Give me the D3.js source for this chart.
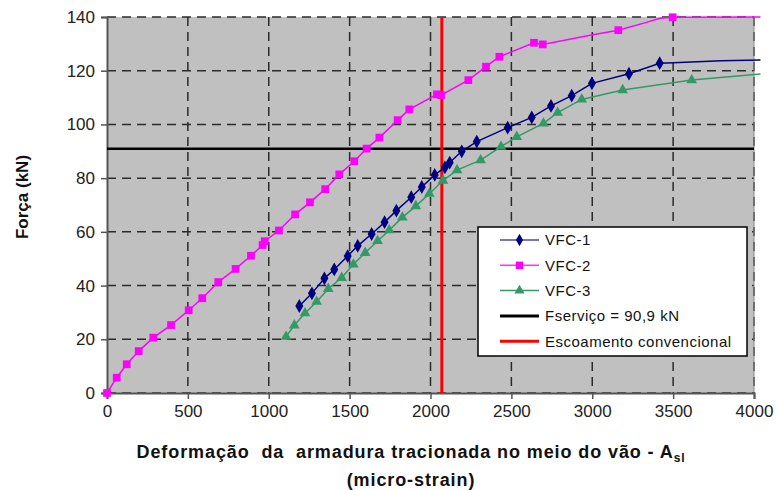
<!DOCTYPE html>
<html>
<head>
<meta charset="utf-8">
<script src="https://cdn.jsdelivr.net/npm/d3@7"></script>
<style>
	body { margin: 0; background: #fff; }
	svg text { font-family: "Liberation Sans", Arial, sans-serif; }
</style>
</head>
<body>
<div id="chart"></div>
<script>
// data: [strain, force, marker(1/0)]
const vfc1 = [
	[1189, 32.4, 1], [1267, 37.1, 1], [1344, 42.7, 1], [1405, 46.0, 1], [1488, 51.0, 1],
	[1550, 54.8, 1], [1636, 59.2, 1], [1716, 63.6, 1], [1789, 67.9, 1], [1881, 72.9, 1],
	[1946, 76.7, 1], [2026, 81.2, 1], [2089, 84.0, 1], [2119, 85.8, 1], [2193, 90.0, 1],
	[2286, 93.6, 1], [2477, 98.8, 1], [2626, 102.6, 1], [2745, 106.9, 1], [2873, 110.7, 1],
	[2998, 115.3, 1], [3227, 118.9, 1], [3417, 122.8, 1], [3501, 123.0, 0], [3800, 123.7, 0],
	[4040, 124.0, 0]
];
const vfc2 = [
	[0, 0, 1], [60, 5.7, 1], [122, 10.7, 1], [196, 15.6, 1], [286, 20.6, 1], [396, 25.3, 1],
	[505, 30.8, 1], [589, 35.3, 1], [688, 41.3, 1], [795, 46.2, 1], [890, 51.1, 1],
	[962, 55.1, 1], [975, 56.5, 1], [1063, 60.5, 1], [1163, 66.5, 1], [1255, 71.0, 1],
	[1349, 75.9, 1], [1436, 81.4, 1], [1529, 86.3, 1], [1605, 91.0, 1], [1684, 95.1, 1],
	[1797, 101.6, 1], [1869, 105.6, 1], [2040, 111.2, 1], [2065, 110.9, 1], [2234, 116.5, 1],
	[2343, 121.5, 1], [2426, 125.2, 1], [2640, 130.4, 1], [2694, 129.8, 1], [2995, 133.3, 0],
	[3161, 135.1, 1], [3330, 137.9, 0], [3419, 139.5, 0], [3497, 139.9, 1], [4040, 140.0, 0]
];
const vfc3 = [
	[1107, 21.0, 1], [1158, 25.2, 1], [1224, 29.7, 1], [1296, 34.0, 1], [1368, 38.8, 1],
	[1451, 42.9, 1], [1523, 47.9, 1], [1596, 52.2, 1], [1673, 56.6, 1], [1745, 60.6, 1],
	[1826, 65.4, 1], [1909, 69.6, 1], [1993, 74.2, 1], [2077, 79.1, 1], [2164, 83.0, 1],
	[2310, 86.7, 1], [2436, 91.7, 1], [2533, 95.4, 1], [2698, 100.4, 1], [2786, 104.4, 1],
	[2935, 109.3, 1], [3188, 112.8, 1], [3615, 116.5, 1], [4040, 118.8, 0]
];
const fServico = 90.9;
const escoamento = 2070;
const xTicks = [0, 500, 1000, 1500, 2000, 2500, 3000, 3500, 4000];
const yTicks = [0, 20, 40, 60, 80, 100, 120, 140];
const legendLabels = ["VFC-1", "VFC-2", "VFC-3", "Fserviço = 90,9 kN", "Escoamento convencional"];

// dimensions
const margin = { top: 17, right: 22, bottom: 97, left: 107 };
const width = 776 - margin.left - margin.right;
const height = 490 - margin.top - margin.bottom;

const x = d3.scaleLinear().domain([0, 4000]).range([0, width]);
const y = d3.scaleLinear().domain([0, 140]).range([height, 0]);

const svg = d3.select("#chart").append("svg")
	.attr("width", 776)
	.attr("height", 490)
	.append("g")
	.attr("transform", "translate(" + margin.left + "," + margin.top + ")");

// plot area
svg.append("rect")
	.attr("width", width)
	.attr("height", height)
	.style("fill", "#c0c0c0");

// grid
svg.append("g").selectAll("line")
	.data(yTicks)
	.enter().append("line")
	.attr("x1", 0).attr("x2", width)
	.attr("y1", d => y(d)).attr("y2", d => y(d))
	.style("stroke", "#2a2a2a").style("stroke-width", 1.5)
	.style("stroke-dasharray", "9,6");
svg.append("g").selectAll("line")
	.data(xTicks.slice(1))
	.enter().append("line")
	.attr("y1", 0).attr("y2", height)
	.attr("x1", d => x(d)).attr("x2", d => x(d))
	.style("stroke", "#2a2a2a").style("stroke-width", 1.5)
	.style("stroke-dasharray", "9,6");

// right border
svg.append("line")
	.attr("x1", width).attr("x2", width).attr("y1", 0).attr("y2", height)
	.style("stroke", "#888").style("stroke-width", 1);

// axes
const yAxis = svg.append("g")
	.call(d3.axisLeft(y).tickValues(yTicks).tickSize(6).tickPadding(6));
const xAxis = svg.append("g")
	.attr("transform", "translate(0," + height + ")")
	.call(d3.axisBottom(x).tickValues(xTicks).tickFormat(d3.format("d")).tickSize(6).tickPadding(6));
[xAxis, yAxis].forEach(a => {
	a.select(".domain").style("stroke", "#555").style("stroke-width", 2);
	a.selectAll(".tick line").style("stroke", "#555").style("stroke-width", 1.5);
	a.selectAll(".tick text")
		.style("font-size", "17px")
		.style("fill", "#222")
		.style("font-family", "'Liberation Sans', Arial, sans-serif");
});

// reference lines
svg.append("line")
	.attr("x1", 0).attr("x2", width)
	.attr("y1", y(fServico)).attr("y2", y(fServico))
	.style("stroke", "#000").style("stroke-width", 2.5);
svg.append("line")
	.attr("x1", x(escoamento)).attr("x2", x(escoamento))
	.attr("y1", 0).attr("y2", height)
	.style("stroke", "#ff0000").style("stroke-width", 3);

// series
const series = [
	{ data: vfc1, color: "#000080", shape: d3.symbolDiamond, size: 55 },
	{ data: vfc2, color: "#ff00ff", shape: d3.symbolSquare, size: 60 },
	{ data: vfc3, color: "#339966", shape: d3.symbolTriangle, size: 50 }
];

const line = d3.line()
	.x(d => x(d[0]))
	.y(d => y(d[1]));

series.forEach(s => {
	svg.append("path")
		.datum(s.data)
		.attr("d", line)
		.style("fill", "none")
		.style("stroke", s.color)
		.style("stroke-width", 1.5);
	svg.append("g").selectAll("path")
		.data(s.data.filter(d => d[2]))
		.enter().append("path")
		.attr("d", d3.symbol().type(s.shape).size(s.size))
		.attr("transform", d => "translate(" + x(d[0]) + "," + y(d[1]) + ")")
		.style("fill", s.color);
});

// legend
const legend = svg.append("g")
	.attr("transform", "translate(" + (478 - margin.left) + "," + (227 - margin.top) + ")");
legend.append("rect")
	.attr("width", 269)
	.attr("height", 129)
	.style("fill", "#fff")
	.style("stroke", "#000")
	.style("stroke-width", 1.5);
const legendItems = [
	{ color: "#4a4aa8", mark: "#000080", shape: d3.symbolDiamond, size: 45, w: 1.5 },
	{ color: "#ff33ff", mark: "#ff00ff", shape: d3.symbolSquare, size: 55, w: 1.5 },
	{ color: "#339966", mark: "#339966", shape: d3.symbolTriangle, size: 45, w: 1.5 },
	{ color: "#000", w: 3 },
	{ color: "#ff0000", w: 3 }
];
legendItems.forEach((it, i) => {
	const g = legend.append("g")
		.attr("transform", "translate(0," + (13 + i * 25.3) + ")");
	g.append("line")
		.attr("x1", 22).attr("x2", 61)
		.style("stroke", it.color).style("stroke-width", it.w);
	if (it.shape) {
		g.append("path")
			.attr("d", d3.symbol().type(it.shape).size(it.size))
			.attr("transform", "translate(41.5,0)")
			.style("fill", it.mark);
	}
	g.append("text")
		.attr("x", 67)
		.attr("dy", "0.36em")
		.style("font-size", "15px")
		.style("letter-spacing", "0.5px")
		.style("fill", "#111")
		.text(legendLabels[i]);
});

// axis titles
const title = svg.append("text")
	.attr("x", 411 - margin.left)
	.attr("y", 458 - margin.top)
	.attr("text-anchor", "middle")
	.style("font-size", "18px")
	.style("letter-spacing", "0.9px")
	.style("font-weight", "bold")
	.style("fill", "#111")
	.attr("xml:space", "preserve");
title.append("tspan").text("Deformação  da  armadura tracionada no meio do vão - A");
title.append("tspan").attr("dy", 4).style("font-size", "12px").text("sl");
svg.append("text")
	.attr("x", 411 - margin.left)
	.attr("y", 486 - margin.top)
	.attr("text-anchor", "middle")
	.style("font-size", "18px")
	.style("letter-spacing", "0.9px")
	.style("font-weight", "bold")
	.style("fill", "#111")
	.text("(micro-strain)");
svg.append("text")
	.attr("transform", "translate(" + (28 - margin.left) + "," + (197 - margin.top) + ") rotate(-90)")
	.attr("text-anchor", "middle")
	.style("font-size", "17px")
	.style("font-weight", "bold")
	.style("fill", "#111")
	.text("Força (kN)");
</script>
</body>
</html>
